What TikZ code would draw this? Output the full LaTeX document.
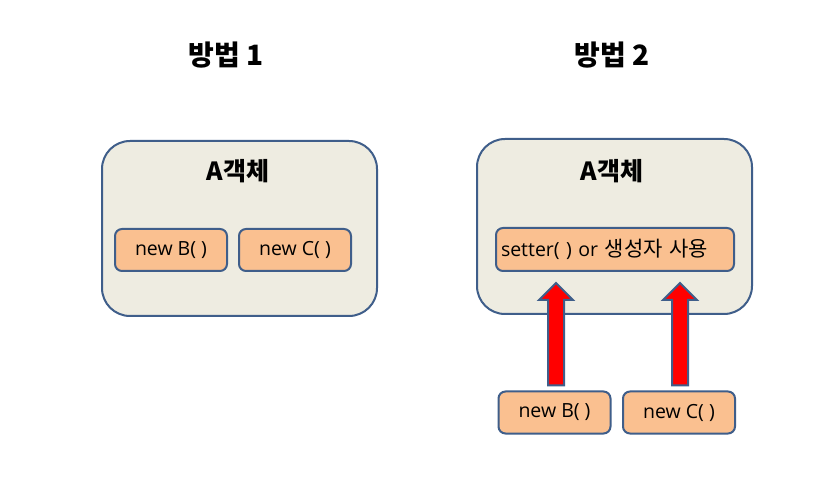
\documentclass[tikz,border=0pt]{standalone}
\usepackage{fontspec}
\setmainfont{Open Sans}
\newfontfamily\kr{Noto Sans CJK KR}
\usetikzlibrary{calc}
\definecolor{bigfill}{HTML}{EEECE1}
\definecolor{edge}{HTML}{3F5E8A}
\definecolor{peach}{HTML}{FAC090}
\tikzset{
  bigbox/.style={draw=edge, line width=2pt, fill=bigfill, rounded corners=28pt, minimum width=275pt, minimum height=175pt, inner sep=0pt},
  smallbox/.style={draw=edge, line width=2pt, fill=peach, rounded corners=7pt, minimum width=112pt, minimum height=42pt, inner sep=0pt, font=\fontsize{19.5pt}{22pt}\selectfont},
  title/.style={font=\kr\fontsize{28pt}{32pt}\selectfont\bfseries},
  objlabel/.style={font=\kr\fontsize{25pt}{28pt}\selectfont\bfseries},
  barrow/.style={draw=edge, line width=2pt, fill=red, line join=miter}
}
\newcommand\blockarr[2]{%
  \path[barrow] let \p1=(#1), \p2=(#2) in
    (\x1-8pt,\y1) -- (\x1-8pt,\y2-17pt) -- (\x1-17pt,\y2-17pt) -- (\x2,\y2)
    -- (\x1+17pt,\y2-17pt) -- (\x1+8pt,\y2-17pt) -- (\x1+8pt,\y1) -- cycle;}
\begin{document}
\begin{tikzpicture}[x=1pt,y=-1pt]
\useasboundingbox[fill=white] (0,0) rectangle (825,478);
\node[title] (t1) at (226,55) {방법 1};
\node[title] (t2) at (612,55) {방법 2};
% left
\node[bigbox] (L) at (239.5,228.5) {};
\node[objlabel] (La) at (238,171) {A객체};
\node[smallbox] (LB) at (171,250) {new B( )};
\node[smallbox] (LC) at (295,250) {new C( )};
% right
\node[bigbox] (R) at (614.5,226.5) {};
\node[objlabel] (Ra) at (612,171) {A객체};
\node[smallbox, minimum width=238pt, minimum height=43pt, anchor=west, text width=228pt, inner xsep=5pt, align=left] (S) at (495,249.5) {setter( ) or {\kr\fontsize{21pt}{22pt}\selectfont 생성자 사용}};
\node[smallbox] (RB) at (554.5,412.5) {new B( )};
\node[smallbox] (RC) at (679,412.5) {new C( )};
\coordinate (s1) at ($(RB.north)+(1.5,-5)$);
\coordinate (e1) at (556,283);
\coordinate (s2) at ($(RC.north)+(1,-5)$);
\coordinate (e2) at (680,283);
\blockarr{s1}{e1}
\blockarr{s2}{e2}
\end{tikzpicture}
\end{document}
